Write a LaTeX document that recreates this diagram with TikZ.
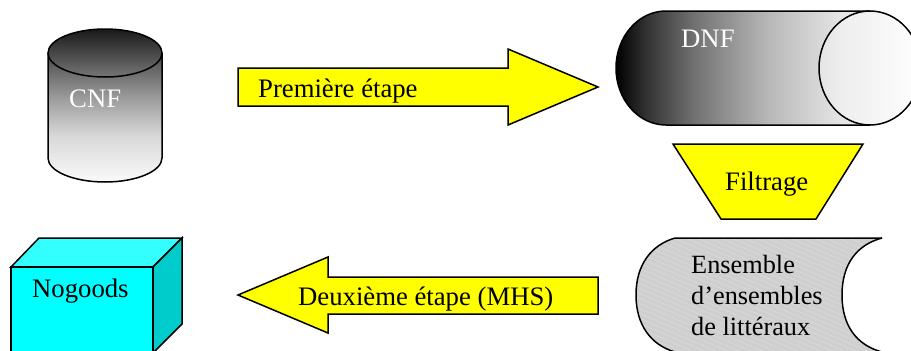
\documentclass[tikz,border=0pt]{standalone}
\usepackage{fontspec}
\setmainfont{Liberation Serif}
\definecolor{arrowyellow}{RGB}{255,255,0}
\definecolor{boxcyan}{RGB}{0,255,255}
\definecolor{boxtop}{RGB}{51,255,255}
\definecolor{boxside}{RGB}{0,204,204}
\pgfdeclareverticalshading{cylshade}{100bp}{color(0bp)=(white); color(25bp)=(white!98!black); color(40bp)=(white!85!black); color(52bp)=(white!62!black); color(62bp)=(white!40!black); color(75bp)=(white!10!black); color(100bp)=(white!10!black)}
\pgfdeclarehorizontalshading{dnfshade}{100bp}{color(0bp)=(black); color(25bp)=(black); color(30bp)=(white!20!black); color(38bp)=(white!45!black); color(50bp)=(white!72!black); color(62bp)=(white!90!black); color(75bp)=(white); color(100bp)=(white)}
\tikzset{
  outline/.style={draw=black,line width=1.5pt,line join=miter},
  lbl/.style={inner sep=0pt,anchor=base west,font=\fontsize{26.7}{26.7}\selectfont},
  wlbl/.style={lbl,text=white},
  setlbl/.style={lbl,font=\fontsize{26.3}{26.3}\selectfont}
}
\begin{document}
\begin{tikzpicture}[x=1pt,y=-1pt]
\useasboundingbox (0,0) rectangle (911,351);
\clip (0,0) rectangle (911,351);
% cylinder
\path[shading=cylshade] (48,53) -- (48,158) .. controls (48,171.25) and (73.5,182) .. (105,182) .. controls (136.5,182) and (162,171.25) .. (162,158) -- (162,53) .. controls (162,39.75) and (136.5,29) .. (105,29) .. controls (73.5,29) and (48,39.75) .. (48,53) -- cycle;
\draw[outline] (48,53) -- (48,158) .. controls (48,171.25) and (73.5,182) .. (105,182) .. controls (136.5,182) and (162,171.25) .. (162,158) -- (162,53);
\draw[outline] (105,53) ellipse[x radius=57,y radius=24];
\node[wlbl] (cnf) at (69,107) {CNF};
% first arrow
\draw[outline,fill=arrowyellow] (238,68) -- (508,68) -- (508,49) -- (598,87) -- (508,125) -- (508,106) -- (238,106) -- cycle;
\node[lbl] (a1) at (258,97) {Première étape};
% DNF
\path[shading=dnfshade] (666,11) -- (870,11) .. controls (898.2,11) and (921,36.5) .. (921,68) .. controls (921,99.5) and (898.2,125) .. (870,125) -- (666,125) .. controls (638.4,125) and (616,99.5) .. (616,68) .. controls (616,36.5) and (638.4,11) .. (666,11) -- cycle;
\draw[outline] (870,11) -- (666,11) .. controls (638.4,11) and (616,36.5) .. (616,68) .. controls (616,99.5) and (638.4,125) .. (666,125) -- (870,125);
\draw[outline,fill=white,fill opacity=.35] (870,68) ellipse[x radius=51,y radius=57];
\node[wlbl] (dnf) at (681,47) {DNF};
% trapezoid
\draw[outline,fill=arrowyellow] (673,144) -- (863,144) -- (816,219) -- (721,219) -- cycle;
\node[lbl] (fil) at (725,190) {Filtrage};
% second arrow
\draw[outline,fill=arrowyellow] (598,277) -- (328,277) -- (328,257) -- (238,295) -- (328,333) -- (328,314) -- (598,314) -- cycle;
\node[lbl] (a2) at (298,305) {Deuxième étape (MHS)};
% box
\draw[outline,fill=boxtop] (11,267) -- (39,238) -- (182,238) -- (153,267) -- cycle;
\draw[outline,fill=boxside] (153,267) -- (182,238) -- (182,324) -- (153,353) -- cycle;
\draw[outline,fill=boxcyan] (11,267) rectangle (153,356);
\node[lbl] (nog) at (32,297) {Nogoods};
% stored data
\begin{scope}
\clip (675,238) -- (882,238) .. controls (856,245) and (842,265) .. (842,295) .. controls (842,325) and (856,345) .. (882,352) -- (675,352) .. controls (651,345) and (636,325) .. (636,295) .. controls (636,265) and (651,245) .. (675,238) -- cycle;
\fill[black!19] (630,230) rectangle (890,356);
\foreach \k in {-30,-25,...,300}
  \draw[white,opacity=.22,line width=.7pt] (620,170+\k) -- (900,290+\k);
\end{scope}
\draw[outline] (882,238) -- (675,238) .. controls (651,245) and (636,265) .. (636,295) .. controls (636,325) and (651,345) .. (675,352) -- (882,352);
\draw[outline] (882,238) .. controls (856,245) and (842,265) .. (842,295) .. controls (842,325) and (856,345) .. (882,352);
\node[setlbl] (e1) at (691,273) {Ensemble};
\node[setlbl] (e2) at (691,304) {d’ensembles};
\node[setlbl] (e3) at (691,335) {de littéraux};
\end{tikzpicture}
\end{document}
